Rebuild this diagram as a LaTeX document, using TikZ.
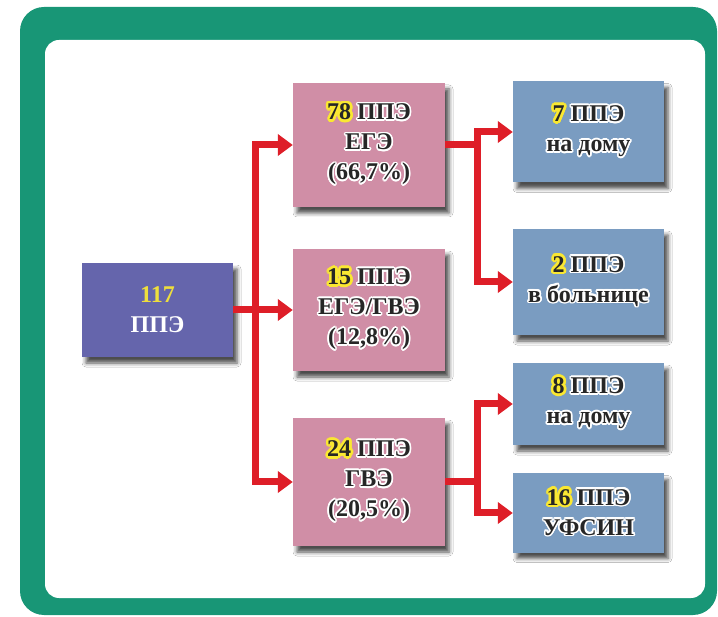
\documentclass[tikz,border=0pt]{standalone}
\usepackage{fontspec}
\setmainfont{Liberation Serif}
\usepackage[copies]{contour}
\usetikzlibrary{shadows.blur,arrows.meta}
\definecolor{frameg}{RGB}{24,150,118}
\definecolor{rootc}{RGB}{101,101,172}
\definecolor{pinkc}{RGB}{208,142,166}
\definecolor{bluec}{RGB}{122,156,193}
\definecolor{redc}{RGB}{222,30,40}
\definecolor{yelc}{RGB}{250,232,50}
\definecolor{yeltx}{RGB}{238,222,60}
\definecolor{darktx}{RGB}{38,38,38}
\newcommand\wt[1]{{\contourlength{1.6pt}\contour{white}{#1}}}
\newcommand\hl[1]{{\contourlength{2.6pt}\contour{yelc}{#1}}}
\begin{document}
\begin{tikzpicture}[x=1pt,y=-1pt,
  box/.style={inner sep=0pt, align=center, text=darktx,
    font=\fontsize{24}{30}\selectfont\bfseries,
    blur shadow={shadow xshift=4pt, shadow yshift=-6pt, shadow blur radius=4pt, shadow opacity=70}},
  rootbox/.style={box, fill=rootc, minimum width=151pt, minimum height=94pt},
  pinkbox/.style={box, fill=pinkc, minimum width=152pt},
  bluebox/.style={box, fill=bluec, minimum width=151pt},
  arr/.style={draw=redc, line width=7pt, -{Triangle[length=15pt,width=21pt]}}]
\useasboundingbox (0,0) rectangle (718,617);
\fill[frameg, rounded corners=24pt] (20,7) rectangle (717,615);
\fill[white, rounded corners=14pt] (45,40) rectangle (705,598);

\coordinate (bxa) at (255,0);
\coordinate (bxb) at (477,0);

\node[rootbox] (r) at (157.5,310) {{\color{yeltx}117}\\{\color{white}ППЭ}};

\node[pinkbox, minimum height=124pt] (p1) at (369,145) {\hl{78} \wt{ППЭ}\\\wt{ЕГЭ}\\\wt{(66,7\%)}};
\node[pinkbox, minimum height=122pt] (p2) at (369,310) {\hl{15} \wt{ППЭ}\\\wt{ЕГЭ/ГВЭ}\\\wt{(12,8\%)}};
\node[pinkbox, minimum height=128pt] (p3) at (369,482) {\hl{24} \wt{ППЭ}\\\wt{ГВЭ}\\\wt{(20,5\%)}};

\node[bluebox, minimum height=101pt] (q1) at (588.5,132) {\hl{7} \wt{ППЭ}\\\wt{на дому}};
\node[bluebox, minimum height=106pt] (q2) at (588.5,282) {\hl{2} \wt{ППЭ}\\\wt{в больнице}};
\node[bluebox, minimum height=82pt] (q3) at (588.5,404) {\hl{8} \wt{ППЭ}\\\wt{на дому}};
\node[bluebox, minimum height=79pt] (q4) at (588.5,513) {\hl{16} \wt{ППЭ}\\\wt{УФСИН}};

\draw[arr] (r.east) -- (r.east -| bxa) |- (p1.west);
\draw[arr] (r.east) -- (p2.west);
\draw[arr] (r.east) -- (r.east -| bxa) |- (p3.west);

\draw[arr] (p1.east) -- (p1.east -| bxb) |- (q1.west);
\draw[arr] (p1.east) -- (p1.east -| bxb) |- (q2.west);
\draw[arr] (p3.east) -- (p3.east -| bxb) |- (q3.west);
\draw[arr] (p3.east) -- (p3.east -| bxb) |- (q4.west);
\end{tikzpicture}
\end{document}
